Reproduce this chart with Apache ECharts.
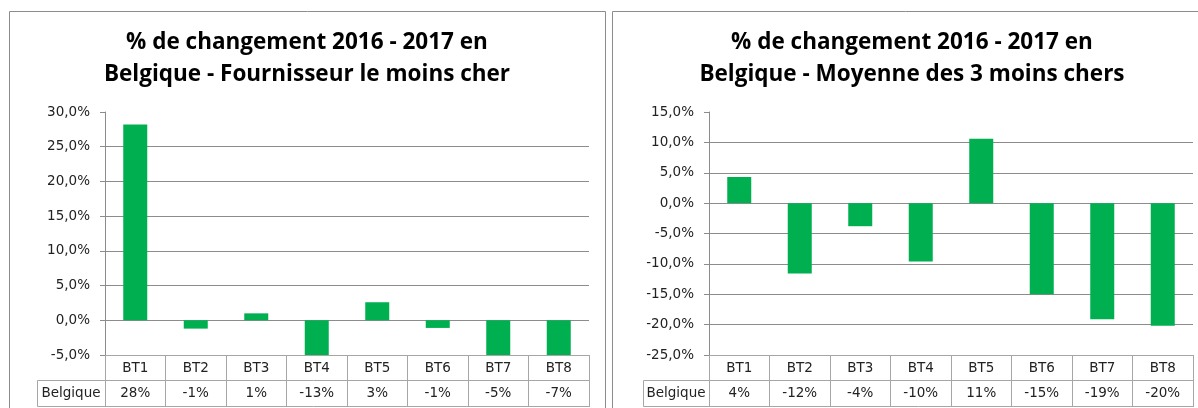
<!DOCTYPE html>
<html>
<head>
<meta charset="utf-8">
<script src="https://cdn.jsdelivr.net/npm/echarts@6/dist/echarts.min.js"></script>
<style>
  html, body { margin: 0; padding: 0; background: #fff; }
  #chart { width: 1198px; height: 408px; }
</style>
</head>
<body>
<div id="chart"></div>
<script>
// Data
const categories = ["BT1", "BT2", "BT3", "BT4", "BT5", "BT6", "BT7", "BT8"];
const cheapestValues = [28.2, -1.2, 1.0, -13.0, 2.6, -1.1, -5.0, -7.0];
const averageValues = [4.3, -11.6, -3.8, -9.6, 10.6, -15.0, -19.1, -20.2];
const rowLabel = "Belgique";
const titles = [
  "% de changement 2016 - 2017 en\nBelgique - Fournisseur le moins cher",
  "% de changement 2016 - 2017 en\nBelgique - Moyenne des 3 moins chers",
];
const yRanges = [
  { min: -5, max: 30 },
  { min: -25, max: 15 },
];

const TITLE_FONT = "'Open Sans', 'DejaVu Sans', sans-serif";
const FONT = "'DejaVu Sans', sans-serif";
const GREEN = "#00b050";
const GRID_GREY = "#8c8c8c";
const TABLE_GREY = "#a6a6a6";
const TEXT = "#222";

// Chart boxes (left edge, title centre, plot left, row label cell left)
const panels = [
  { box: 9, boxW: 596, center: 307, plotLeft: 105, cellLeft: 37 },
  { box: 612, boxW: 600, center: 912, plotLeft: 709, cellLeft: 643 },
];
const PLOT_W = 484;
const PLOT_TOP = 112;
const PLOT_H = 243;

const pctTick = (v) => `${v.toFixed(1).replace(".", ",")}%`;
const pctCell = (v) => `${Math.round(v)}%`;

const seriesValues = [cheapestValues, averageValues];

const chart = echarts.init(document.getElementById("chart"));

const option = {
  animation: false,
  title: panels.map((p, i) => ({
    text: titles[i],
    left: p.center,
    top: 27,
    textAlign: "center",
    padding: 0,
    textStyle: {
      fontFamily: TITLE_FONT,
      fontSize: 22.5,
      fontWeight: "bold",
      color: "#000",
      lineHeight: 32,
    },
  })),
  grid: panels.map((p) => ({
    left: p.plotLeft,
    top: PLOT_TOP,
    width: PLOT_W,
    height: PLOT_H,
  })),
  xAxis: [].concat(
    ...panels.map((p, i) => [
      // category row of the data table
      {
        type: "category",
        gridIndex: i,
        data: categories,
        position: "bottom",
        axisLine: { onZero: false, lineStyle: { color: TABLE_GREY } },
        axisTick: { show: true, length: 52, lineStyle: { color: TABLE_GREY } },
        axisLabel: { margin: 6, fontSize: 13.5, fontFamily: FONT, color: TEXT },
      },
      // value row of the data table
      {
        type: "category",
        gridIndex: i,
        data: seriesValues[i].map(pctCell),
        position: "bottom",
        offset: 25,
        axisLine: { show: false, onZero: false },
        axisTick: { show: false },
        axisLabel: { margin: 6, fontSize: 13.5, fontFamily: FONT, color: TEXT },
      },
    ])
  ),
  yAxis: panels.map((p, i) => ({
    type: "value",
    gridIndex: i,
    min: yRanges[i].min,
    max: yRanges[i].max,
    interval: 5,
    axisLine: { show: true, lineStyle: { color: GRID_GREY } },
    axisTick: { show: true, length: 5, lineStyle: { color: GRID_GREY } },
    axisLabel: {
      margin: 15,
      fontSize: 13.5,
      fontFamily: FONT,
      color: TEXT,
      formatter: pctTick,
    },
    splitLine: {
      show: true,
      showMaxLine: false,
      lineStyle: { color: GRID_GREY, width: 1 },
    },
  })),
  series: seriesValues.map((vals, i) => ({
    name: rowLabel,
    type: "bar",
    xAxisIndex: i * 2,
    yAxisIndex: i,
    data: vals,
    barWidth: 24,
    clip: true,
    itemStyle: { color: GREEN },
  })),
  graphic: [].concat(
    ...panels.map((p) => [
      // outer chart border
      {
        type: "rect",
        shape: { x: p.box + 0.5, y: 11.5, width: p.boxW, height: 420 },
        style: { fill: "none", stroke: GRID_GREY, lineWidth: 1 },
        silent: true,
      },
      // row label cell + bottom row outline
      {
        type: "rect",
        shape: {
          x: p.cellLeft + 0.5,
          y: 380.5,
          width: p.plotLeft + PLOT_W - p.cellLeft,
          height: 26,
        },
        style: { fill: "none", stroke: TABLE_GREY, lineWidth: 1 },
        silent: true,
      },
      {
        type: "text",
        x: (p.cellLeft + p.plotLeft) / 2,
        y: 393.5,
        style: {
          text: rowLabel,
          fontFamily: FONT,
          fontSize: 13.5,
          fill: TEXT,
          align: "center",
          verticalAlign: "middle",
        },
        silent: true,
      },
    ])
  ),
};

chart.setOption(option);
window.addEventListener("resize", () => chart.resize());
</script>
</body>
</html>
